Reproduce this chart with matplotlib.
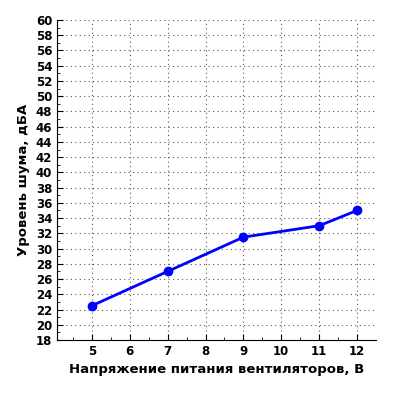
import matplotlib
matplotlib.use("Agg")
import matplotlib.pyplot as plt
import numpy as np

voltage = [5, 7, 9, 11, 12]
noise = [22.5, 27, 31.5, 33, 35]
xticks = [5, 6, 7, 8, 9, 10, 11, 12]
yticks = list(range(18, 61, 2))

fig = plt.figure(figsize=(4, 4), dpi=100)
ax = fig.add_axes([0.1425, 0.15, 0.7975, 0.8])
ax.plot(voltage, noise, color="#0000ff", lw=2, marker="o", ms=6, zorder=3, clip_on=False)
ax.set_xlim(4.08, 12.5)
ax.set_ylim(18, 60)
ax.set_xticks(xticks)
ax.set_yticks(yticks)
ax.set_xticks(np.arange(4.5, 12.5, 1), minor=True)
ax.set_yticks(range(19, 60, 2), minor=True)
ax.grid(True, which="major", linestyle=(0, (1, 3)), color="#555555", lw=0.8)
for s in ["top", "right"]:
    ax.spines[s].set_visible(False)
ax.tick_params(which="both", direction="in", labelsize=8.5)
ax.tick_params(which="major", length=4)
ax.tick_params(which="minor", length=2)
for lab in ax.get_xticklabels() + ax.get_yticklabels():
    lab.set_fontweight("bold")
ax.set_xlabel("Напряжение питания вентиляторов, В", fontsize=9.5, fontweight="bold")
ax.set_ylabel("Уровень шума, дБА", fontsize=9.5, fontweight="bold")
fig.savefig("out.png", dpi=100)
